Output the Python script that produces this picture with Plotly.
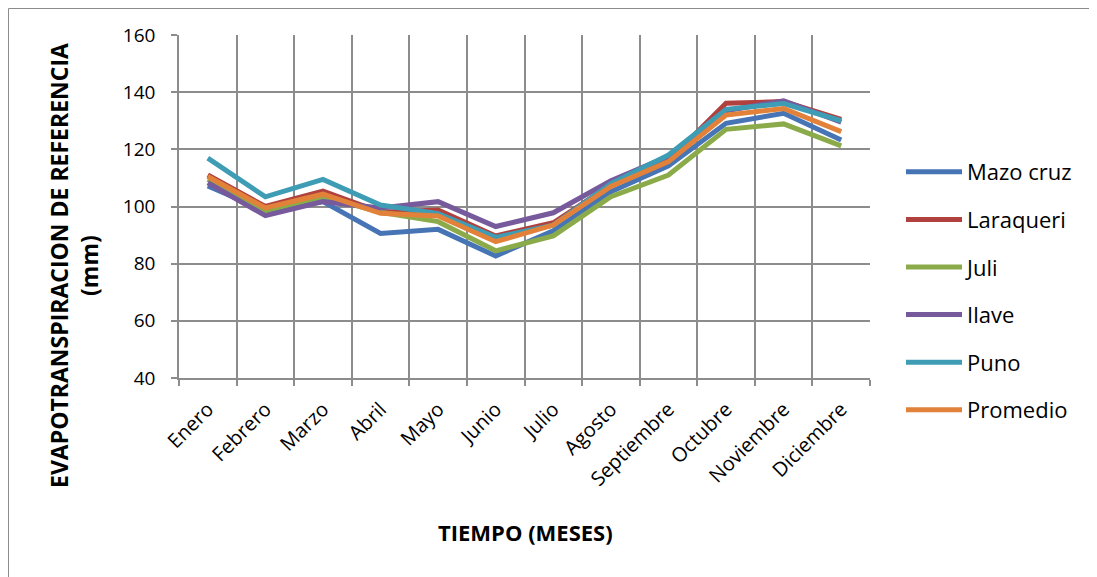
import plotly.graph_objects as go

months = ["Enero", "Febrero", "Marzo", "Abril", "Mayo", "Junio", "Julio",
          "Agosto", "Septiembre", "Octubre", "Noviembre", "Diciembre"]

mazo_cruz = [107.2, 98.5, 101.7, 90.6, 92.0, 82.7, 91.5, 105.2, 114.2, 129.1, 132.6, 123.3]
laraqueri = [111.0, 100.0, 105.4, 98.0, 98.8, 89.7, 94.3, 107.5, 116.0, 136.1, 136.7, 130.5]
juli = [109.5, 98.5, 103.5, 98.0, 94.7, 84.5, 89.7, 103.4, 111.0, 127.0, 128.9, 121.2]
ilave = [108.3, 96.8, 101.7, 99.5, 101.7, 93.0, 97.8, 109.0, 117.6, 133.5, 137.0, 129.5]
puno = [116.9, 103.4, 109.5, 100.5, 97.5, 89.2, 93.5, 108.0, 118.0, 134.0, 136.0, 130.0]
promedio = [110.5, 99.5, 104.3, 97.6, 96.7, 87.7, 93.5, 107.0, 115.7, 132.0, 134.3, 126.2]

series = [
    ("Mazo cruz", mazo_cruz, "#4674B4"),
    ("Laraqueri", laraqueri, "#B0413E"),
    ("Juli", juli, "#8BAB4A"),
    ("Ilave", ilave, "#775A9C"),
    ("Puno", puno, "#3E9DB5"),
    ("Promedio", promedio, "#E2823A"),
]

FONT = "Open Sans"

fig = go.Figure()
for i, (name, vals, col) in enumerate(series):
    fig.add_trace(go.Scatter(
        x=months, y=vals, name=name, mode="lines",
        line=dict(color=col, width=5),
        legendgroup=f"g{i}",
    ))

# the page places the figure 8px from the window's top-left corner,
# so figure pixel = screenshot pixel - 8
OFF = 8
FW, FH = 1097 - OFF, 577 - OFF
L, R, T, B = 179 - OFF, 870 - OFF, 35 - OFF, 378 - OFF
W, H = R - L, B - T

def px_x(p):
    return (p - OFF - L) / W

def px_y(p):
    return (B - (p - OFF)) / H

frame = dict(color="#8C8C8C", width=1)

fig.update_layout(
    width=FW, height=FH,
    margin=dict(l=L, r=FW - R, t=T, b=FH - B),
    paper_bgcolor="white", plot_bgcolor="white",
    font=dict(family=FONT, size=16, color="#000000"),
    showlegend=True,
    legend=dict(
        x=px_x(901), y=px_y(151), xanchor="left", yanchor="top",
        font=dict(family=FONT, size=22, color="#000000"),
        tracegroupgap=16,
        itemwidth=56,
        bgcolor="rgba(0,0,0,0)",
    ),
    xaxis=dict(
        type="category",
        tickson="boundaries",
        automargin=False,
        showgrid=True, gridcolor="#8C8C8C", gridwidth=1.5,
        showline=True, linecolor="#8C8C8C", linewidth=1.5,
        ticks="outside", ticklen=6, tickcolor="#8C8C8C", tickwidth=1.5,
        ticklabelstandoff=10,
        tickangle=-45,
        tickfont=dict(family=FONT, size=20, color="#000000"),
        range=[-0.5, 11.5],
    ),
    yaxis=dict(
        range=[40, 160], dtick=20,
        automargin=False,
        showgrid=True, gridcolor="#8C8C8C", gridwidth=1.5,
        showline=True, linecolor="#8C8C8C", linewidth=1.5,
        ticks="outside", ticklen=6, tickcolor="#8C8C8C", tickwidth=1.5,
        ticklabelstandoff=12,
        tickfont=dict(family=FONT, size=19, color="#000000"),
        zeroline=False,
    ),
    annotations=[
        dict(
            text="<b>EVAPOTRANSPIRACION DE REFERENCIA<br>(mm)</b>",
            x=px_x(74), y=px_y(266), xref="paper", yref="paper",
            xanchor="center", yanchor="middle",
            textangle=-90, showarrow=False, align="center",
            font=dict(family=FONT, size=23, color="#000000"),
        ),
        dict(
            text="<b>TIEMPO (MESES)</b>",
            x=px_x(525), y=px_y(532), xref="paper", yref="paper",
            xanchor="center", yanchor="middle",
            showarrow=False,
            font=dict(family=FONT, size=22, color="#000000"),
        ),
    ],
    shapes=[
        dict(type="line", xref="paper", yref="paper",
             x0=px_x(8.5), x1=px_x(1097), y0=px_y(8.5), y1=px_y(8.5),
             line=frame, layer="below"),
        dict(type="line", xref="paper", yref="paper",
             x0=px_x(8.5), x1=px_x(8.5), y0=px_y(8.5), y1=px_y(577),
             line=frame, layer="below"),
    ],
)

fig.write_html("out.html")
